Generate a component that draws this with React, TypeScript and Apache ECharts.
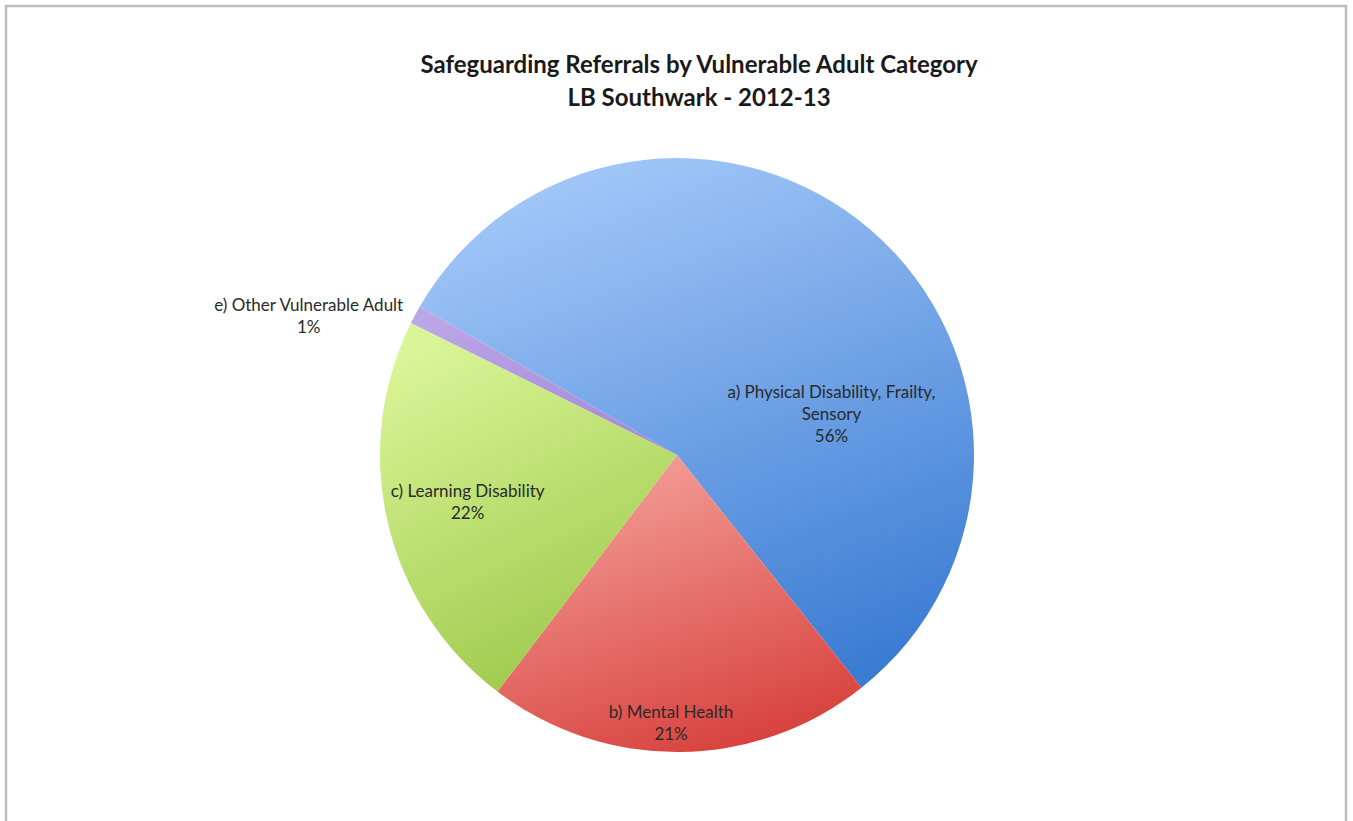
import React, { useEffect, useRef } from "react";
import * as echarts from "echarts";

const titleLines = ["Safeguarding Referrals by Vulnerable Adult Category", "LB Southwark - 2012-13"];
const categories = [
  "a) Physical Disability, Frailty, Sensory",
  "b) Mental Health",
  "c) Learning Disability",
  "e) Other Vulnerable Adult",
];
const labelNames = [
  "a) Physical Disability, Frailty,\nSensory",
  "b) Mental Health",
  "c) Learning Disability",
  "e) Other Vulnerable Adult",
];
const percentValues = [56, 21, 22, 1];

// label anchor offsets relative to the pie centre, as fractions of the radius
const labelAnchors: [number, number][] = [
  [0.52, -0.14],
  [-0.02, 0.9],
  [-0.705, 0.155],
  [-1.24, -0.47],
];

const sliceColors: [string, string][] = [
  ["#a3c8f8", "#3b7cd3"],
  ["#f4a09a", "#d7403c"],
  ["#daf597", "#9ac748"],
  ["#bba6e6", "#a48ad8"],
];

export default function App() {
  const ref = useRef<HTMLDivElement>(null);
  useEffect(() => {
    if (!ref.current) return;
    const chart = echarts.init(ref.current, null, { renderer: "svg" });
    const H = ref.current.clientHeight;
    const cx = 677;
    const cy = 455;
    const r = 297;
    chart.setOption({
      animation: false,
      backgroundColor: "#ffffff",
      textStyle: { fontFamily: "Lato" },
      title: {
        text: titleLines.join("\n"),
        left: 694,
        textAlign: "center",
        top: 42,
        textStyle: {
          fontFamily: "Lato",
          fontWeight: "bold",
          fontSize: 24,
          lineHeight: 33,
          color: "#1a1a1a",
        },
      },
      graphic: [
        {
          type: "rect",
          shape: { x: 6, y: 6, width: 1340, height: H + 20 },
          style: { fill: "none", stroke: "#bfbfbf", lineWidth: 2.5 },
          silent: true,
        },
      ],
      series: [
        {
          type: "pie",
          center: [cx, cy],
          radius: [0, r],
          startAngle: 150,
          clockwise: true,
          avoidLabelOverlap: false,
          data: percentValues.map((v, i) => ({
            value: v,
            name: categories[i],
            itemStyle: {
              color: new echarts.graphic.LinearGradient(0.3, 0, 0.7, 1, [
                { offset: 0, color: sliceColors[i][0] },
                { offset: 1, color: sliceColors[i][1] },
              ]),
            },
          })),
          label: {
            show: true,
            position: "inside",
            formatter: (p: any) => labelNames[p.dataIndex] + "\n" + percentValues[p.dataIndex] + "%",
            fontFamily: "Lato",
            fontSize: 17,
            lineHeight: 22,
            color: "#2a2a2a",
            align: "center",
          },
          labelLine: { show: false },
          labelLayout: (p: any) => {
            const a = labelAnchors[p.dataIndex];
            return {
              x: cx + a[0] * r,
              y: cy + a[1] * r,
              align: "center",
              verticalAlign: "middle",
            };
          },
          emphasis: { disabled: true },
        },
      ],
    });
    return () => chart.dispose();
  }, []);
  return (
    <div
      ref={ref}
      style={{ position: "fixed", left: 0, top: 0, width: 1353, height: 821 }}
    />
  );
}
